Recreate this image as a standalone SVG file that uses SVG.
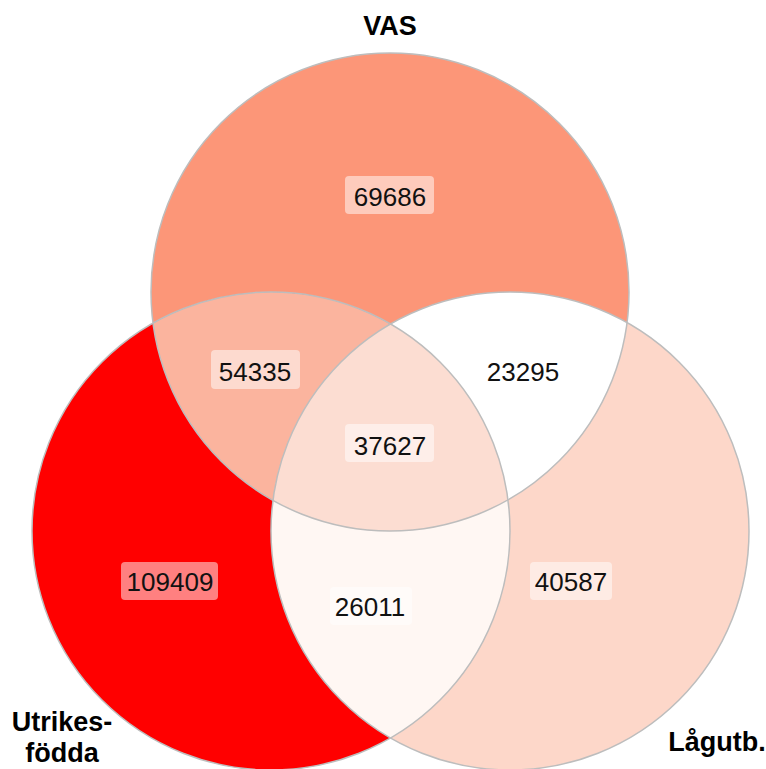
<svg xmlns="http://www.w3.org/2000/svg" width="766" height="769" viewBox="0 0 766 769">
  <style>
    .ring { fill: none; stroke: #BDBDBD; stroke-width: 1.5; }
    .box { fill: #FFFFFF; fill-opacity: 0.5; }
    .num { font-family: "Liberation Sans", Arial, sans-serif; font-size: 26px; fill: #111111; text-anchor: middle; }
    .title { font-family: "Liberation Sans", Arial, sans-serif; font-size: 27px; font-weight: bold; fill: #000000; text-anchor: middle; }
  </style>
  <defs>
    <clipPath id="clipV"><circle cx="390" cy="292" r="239"/></clipPath>
    <clipPath id="clipL"><circle cx="271" cy="531" r="239"/></clipPath>
    <clipPath id="clipR"><circle cx="510" cy="531" r="239"/></clipPath>
  </defs>
  <rect x="0" y="0" width="766" height="769" fill="#FFFFFF"/>

  <g id="regions">
    <circle id="vas-only" cx="390" cy="292" r="239" fill="#FC9678"/>
    <circle id="utrikes-only" cx="271" cy="531" r="239" fill="#FF0000"/>
    <circle id="lagutb-only" cx="510" cy="531" r="239" fill="#FDD7C9"/>
    <circle id="vas-utrikes" cx="390" cy="292" r="239" fill="#FBB49E" clip-path="url(#clipL)"/>
    <circle id="vas-lagutb" cx="390" cy="292" r="239" fill="#FFFFFF" clip-path="url(#clipR)"/>
    <circle id="utrikes-lagutb" cx="271" cy="531" r="239" fill="#FFF7F3" clip-path="url(#clipR)"/>
    <g clip-path="url(#clipV)">
      <circle id="all-three" cx="271" cy="531" r="239" fill="#FCDDD2" clip-path="url(#clipR)"/>
    </g>
  </g>

  <g id="outlines">
    <circle class="ring" cx="390" cy="292" r="239"/>
    <circle class="ring" cx="271" cy="531" r="239"/>
    <circle class="ring" cx="510" cy="531" r="239"/>
  </g>

  <g id="label-vas-only">
    <rect class="box" x="345" y="176" width="89" height="38" rx="4"/>
    <text class="num" x="390" y="206">69686</text>
  </g>
  <g id="label-vas-utrikes">
    <rect class="box" x="211" y="350" width="89" height="39" rx="4"/>
    <text class="num" x="255" y="381">54335</text>
  </g>
  <g id="label-vas-lagutb">
    <rect class="box" x="479" y="350" width="89" height="39" rx="4"/>
    <text class="num" x="523" y="381">23295</text>
  </g>
  <g id="label-all-three">
    <rect class="box" x="345" y="424" width="89" height="38" rx="4"/>
    <text class="num" x="390" y="455">37627</text>
  </g>
  <g id="label-utrikes-only">
    <rect class="box" x="121" y="562" width="97" height="38" rx="4"/>
    <text class="num" x="170" y="591">109409</text>
  </g>
  <g id="label-utrikes-lagutb">
    <rect class="box" x="330" y="587" width="82" height="38" rx="4"/>
    <text class="num" x="370" y="616">26011</text>
  </g>
  <g id="label-lagutb-only">
    <rect class="box" x="530" y="562" width="82" height="38" rx="4"/>
    <text class="num" x="571" y="591">40587</text>
  </g>

  <g id="set-titles">
    <text class="title" x="62" y="731">Utrikes-</text>
    <text class="title" x="62" y="762">födda</text>
    <text class="title" x="390" y="35">VAS</text>
    <text class="title" x="717" y="751">Lågutb.</text>
  </g>
</svg>
